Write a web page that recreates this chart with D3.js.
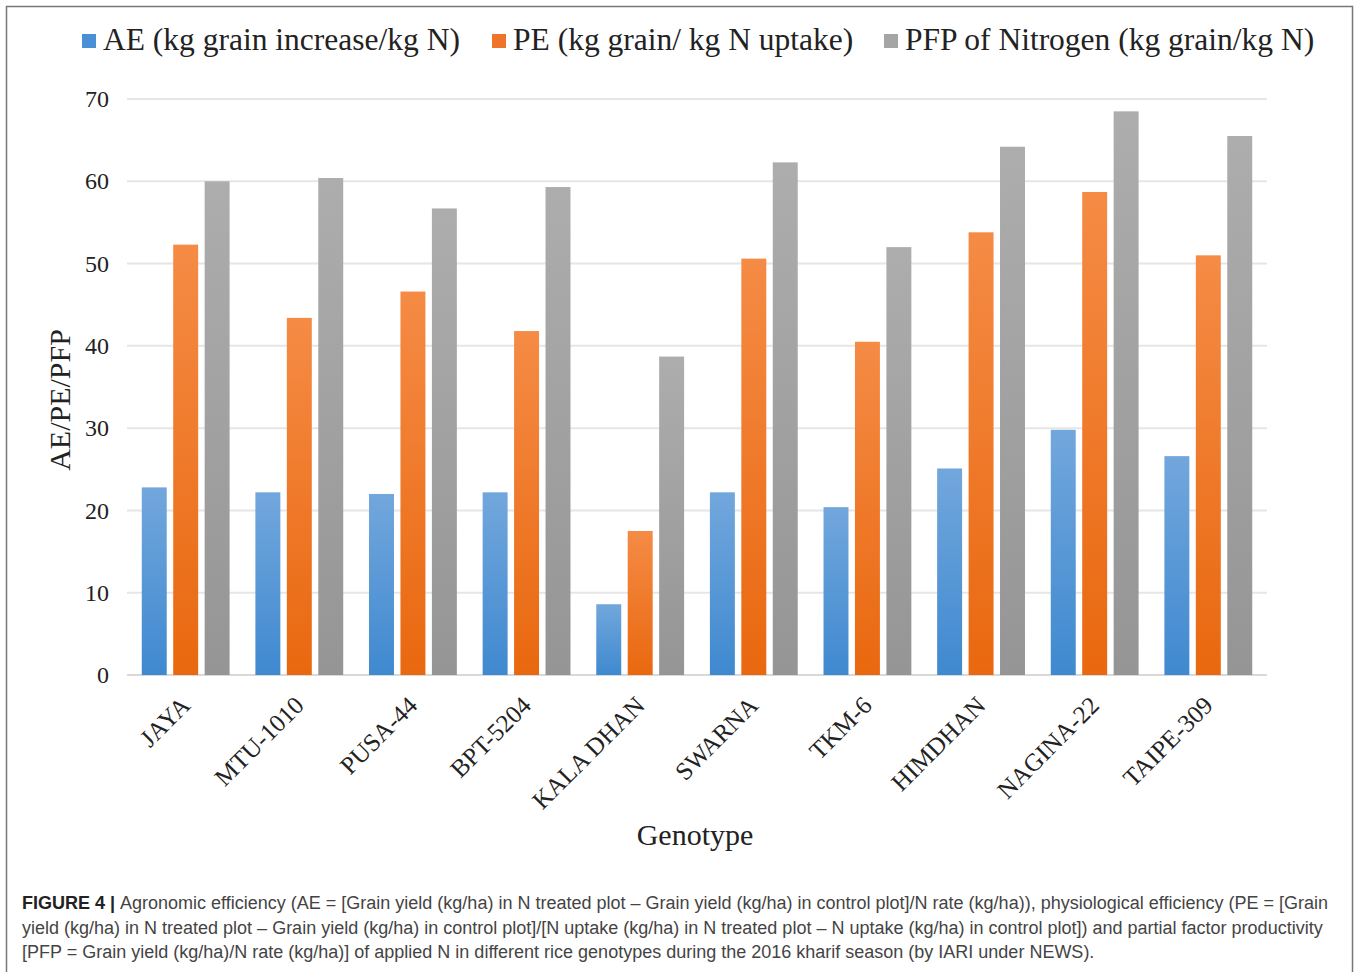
<!DOCTYPE html>
<html><head><meta charset="utf-8">
<script src="https://cdn.jsdelivr.net/npm/d3@7"></script>
<style>
body{margin:0;background:#fff;}
svg{display:block;}
</style></head>
<body>
<svg id="chart" width="1357" height="972"></svg>
<script>
const categories = ["JAYA","MTU-1010","PUSA-44","BPT-5204","KALA DHAN","SWARNA","TKM-6","HIMDHAN","NAGINA-22","TAIPE-309"];
const seriesNames = ["AE (kg grain increase/kg N)","PE (kg grain/ kg N uptake)","PFP of Nitrogen (kg grain/kg N)"];
const aeValues  = [22.8,22.2,22.0,22.2,8.6,22.2,20.4,25.1,29.8,26.6];
const peValues  = [52.3,43.4,46.6,41.8,17.5,50.6,40.5,53.8,58.7,51.0];
const pfpValues = [60.0,60.4,56.7,59.3,38.7,62.3,52.0,64.2,68.5,65.5];
const yTicks = [0,10,20,30,40,50,60,70];

const colorsTop = ["#72a7dc","#f58b45","#adadad"];
const colorsBot = ["#3f89d0","#e9680f","#959595"];
const legendColors = ["#4a90d6","#ee7429","#a5a5a5"];

const svg = d3.select("#chart");
svg.append("rect").attr("x",6.5).attr("y",6.5).attr("width",1346).attr("height",980)
  .attr("fill","none").attr("stroke","#777").attr("stroke-width",1.5);

const defs = svg.append("defs");
colorsTop.forEach((c,i)=>{
  const g = defs.append("linearGradient").attr("id","g"+i).attr("x1",0).attr("y1",0).attr("x2",0).attr("y2",1);
  g.append("stop").attr("offset","0%").attr("stop-color",c);
  g.append("stop").attr("offset","100%").attr("stop-color",colorsBot[i]);
});

const plot = {left:127, right:1267, top:99, bottom:675};
const x0 = d3.scaleBand().domain(categories).range([plot.left, plot.right]).paddingInner(0.227).paddingOuter(0.13);
const x1 = d3.scaleBand().domain([0,1,2]).range([0, x0.bandwidth()]).paddingInner(0.206);
const y = d3.scaleLinear().domain([0,70]).range([plot.bottom, plot.top]);

// gridlines
svg.append("g").selectAll("line").data(yTicks).join("line")
  .attr("x1",plot.left).attr("x2",plot.right)
  .attr("y1",d=>y(d)).attr("y2",d=>y(d))
  .attr("stroke",d=>d===0?"#d9d9d9":"#e6e6e6").attr("stroke-width",2);

// y axis
const yAxis = svg.append("g").attr("transform",`translate(${plot.left},0)`)
  .call(d3.axisLeft(y).tickValues(yTicks).tickSize(0).tickPadding(18));
yAxis.select(".domain").remove();
yAxis.selectAll("text").attr("font-family","'Liberation Serif', serif").attr("font-size",24).attr("fill","#222");

const series = [aeValues, peValues, pfpValues];
const bars = svg.append("g");
categories.forEach((cat,ci)=>{
  series.forEach((vals,si)=>{
    bars.append("rect")
      .attr("x", x0(cat)+x1(si))
      .attr("width", x1.bandwidth())
      .attr("y", y(vals[ci]))
      .attr("height", y(0)-y(vals[ci]))
      .attr("fill","url(#g"+si+")");
  });
});

// x axis labels
const xAxis = svg.append("g").attr("transform",`translate(0,${plot.bottom})`)
  .call(d3.axisBottom(x0).tickSize(0).tickPadding(0));
xAxis.select(".domain").remove();
xAxis.selectAll("text")
  .attr("font-family","'Liberation Serif', serif").attr("font-size",25).attr("fill","#222")
  .attr("text-anchor","end").attr("dy",0)
  .attr("transform","translate(6,32) rotate(-45)");

// axis titles
svg.append("text").attr("x",695).attr("y",845).attr("text-anchor","middle")
  .attr("font-family","'Liberation Serif', serif").attr("font-size",30).attr("fill","#222").text("Genotype");
svg.append("text").attr("transform","translate(70,400) rotate(-90)").attr("text-anchor","middle")
  .attr("font-family","'Liberation Serif', serif").attr("font-size",30).attr("fill","#222").text("AE/PE/PFP");

// legend
const legendX = [82, 492, 884];
const lg = svg.append("g");
seriesNames.forEach((n,i)=>{
  lg.append("rect").attr("x",legendX[i]).attr("y",34).attr("width",14).attr("height",14).attr("fill",legendColors[i]);
  lg.append("text").attr("x",legendX[i]+21).attr("y",50)
    .attr("font-family","'Liberation Serif', serif").attr("font-size",31.5).attr("fill","#222").text(n);
});

// caption
const capLines = [
  [["FIGURE 4 | ",true],["Agronomic efficiency (AE = [Grain yield (kg/ha) in N treated plot – Grain yield (kg/ha) in control plot]/N rate (kg/ha)), physiological efficiency (PE = [Grain",false]],
  [["yield (kg/ha) in N treated plot – Grain yield (kg/ha) in control plot]/[N uptake (kg/ha) in N treated plot – N uptake (kg/ha) in control plot]) and partial factor productivity",false]],
  [["[PFP = Grain yield (kg/ha)/N rate (kg/ha)] of applied N in different rice genotypes during the 2016 kharif season (by IARI under NEWS).",false]]
];
const capY = [909, 934, 958];
capLines.forEach((parts,li)=>{
  const t = svg.append("text").attr("x",22).attr("y",capY[li])
    .attr("font-family","'Liberation Sans', Arial, sans-serif").attr("font-size",18).attr("fill","#444");
  parts.forEach(p=>{
    t.append("tspan").attr("font-weight",p[1]?"bold":"normal").attr("fill",p[1]?"#222":"#444").text(p[0]);
  });
});
</script>
</body></html>
